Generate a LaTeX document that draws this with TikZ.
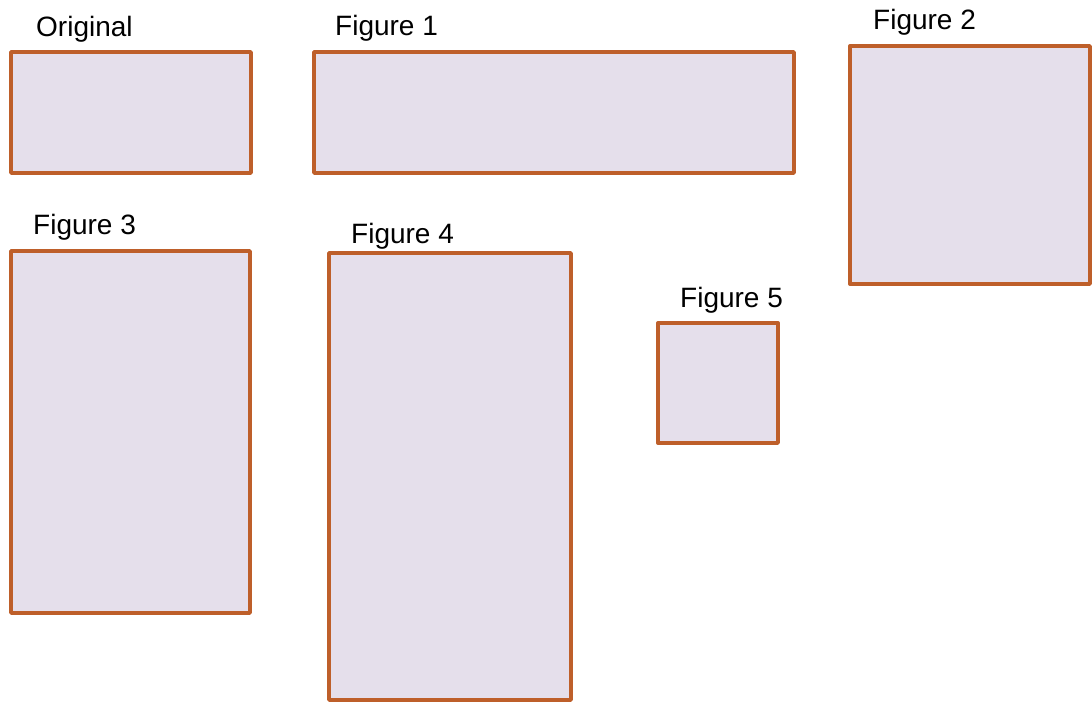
\documentclass[tikz,border=0pt]{standalone}
\usepackage{fontspec}
\setmainfont{Liberation Sans}
\definecolor{boxfill}{HTML}{E5DFEB}
\definecolor{boxline}{HTML}{BE5F2A}
\begin{document}
\begin{tikzpicture}[x=1pt,y=-1pt,
  frame/.style={draw=boxline,fill=boxfill,line width=3.4pt,line join=round},
  caption/.style={anchor=base west,inner sep=0pt,font=\fontsize{28}{32}\selectfont}]
\useasboundingbox (0,0) rectangle (1092,702);
% boxes
\draw[frame] (11,52) rectangle (251,173);
\draw[frame] (314,52) rectangle (794,173);
\draw[frame] (850,46) rectangle (1090,284);
\draw[frame] (11,251) rectangle (250,613);
\draw[frame] (329,253) rectangle (571,700);
\draw[frame] (658,323) rectangle (778,443);
% captions
\node[caption] (c0) at (36,36) {Original};
\node[caption] (c1) at (335,35) {Figure 1};
\node[caption] (c2) at (873,29) {Figure 2};
\node[caption] (c3) at (33,234) {Figure 3};
\node[caption] (c4) at (351,243) {Figure 4};
\node[caption] (c5) at (680,307) {Figure 5};
\end{tikzpicture}
\end{document}
